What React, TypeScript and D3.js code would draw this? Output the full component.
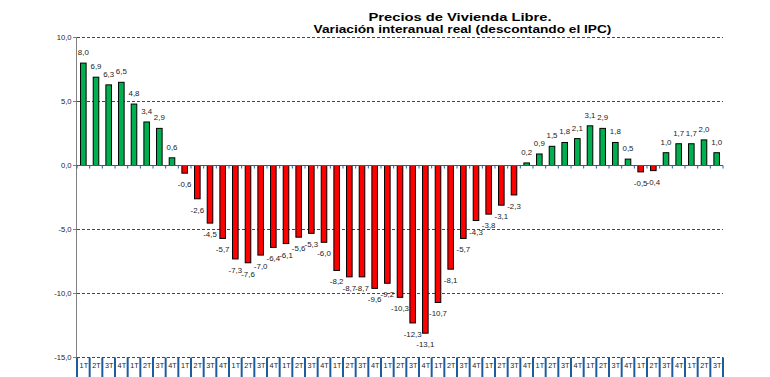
import React from "react";
import * as d3 from "d3";

const TITLE_LINES = ["Precios de Vivienda Libre.", "Variación interanual real (descontando el IPC)"];
const QUARTERS = ["1T", "2T", "3T", "4T"];
const VALUES = [
  8.0, 6.9, 6.3, 6.5, 4.8, 3.4, 2.9, 0.6,
  -0.6, -2.6, -4.5, -5.7, -7.3, -7.6, -7.0, -6.4,
  -6.1, -5.6, -5.3, -6.0, -8.2, -8.7, -8.7, -9.6,
  -9.2, -10.3, -12.3, -13.1, -10.7, -8.1, -5.7, -4.3,
  -3.8, -3.1, -2.3, 0.2, 0.9, 1.5, 1.8, 2.1,
  3.1, 2.9, 1.8, 0.5, -0.5, -0.4, 1.0, 1.7,
  1.7, 2.0, 1.0,
];
const CATEGORIES = VALUES.map((_, i) => QUARTERS[i % 4]);
const Y_TICKS = [10, 5, 0, -5, -10, -15];

const W = 770;
const H = 377;
const LEFT = 77;
const RIGHT = 723;
const TOP = 37.5;
const BOTTOM = 357.5;

const fmt = (v: number) => v.toFixed(1).replace(".", ",");

function T({ x, y, sx = 1.15, anchor = "middle", size, weight = "normal", fill = "#222", children }: any) {
  return (
    <text
      transform={`translate(${x},${y}) scale(${sx},1)`}
      textAnchor={anchor}
      fontSize={size}
      fontWeight={weight}
      fill={fill}
      fontFamily="'Liberation Sans', Arial, sans-serif"
    >
      {children}
    </text>
  );
}

export default function App() {
  const x = d3
    .scaleBand<number>()
    .domain(VALUES.map((_, i) => i))
    .range([LEFT, RIGHT])
    .paddingInner(0.56)
    .paddingOuter(0.28);
  const step = (RIGHT - LEFT) / VALUES.length;
  const y = d3.scaleLinear().domain([-15, 10]).range([BOTTOM, TOP]);
  const y0 = y(0);
  const boundaries = d3.range(VALUES.length + 1).map((i) => LEFT + i * step);

  return (
    <svg width={W} height={H} style={{ position: "absolute", left: 0, top: 0, background: "#fff" }}>
      <rect x={0} y={0} width={W} height={H} fill="#fff" />
      {/* Title */}
      <T x={460} y={20.7} size={11.6} weight="bold" sx={1.27} fill="#000">
        {TITLE_LINES[0]}
      </T>
      <T x={462.5} y={32.7} size={11.6} weight="bold" sx={1.18} fill="#000">
        {TITLE_LINES[1]}
      </T>

      {/* Gridlines */}
      {Y_TICKS.filter((t) => t !== 0).map((t) => (
        <line
          key={t}
          x1={LEFT}
          x2={RIGHT}
          y1={y(t)}
          y2={y(t)}
          stroke="#333"
          strokeWidth={0.9}
          strokeDasharray="3,2"
        />
      ))}

      {/* Y axis */}
      <line x1={LEFT - 0.5} x2={LEFT - 0.5} y1={TOP} y2={BOTTOM} stroke="#808080" strokeWidth={1} />
      {Y_TICKS.map((t) => (
        <g key={t}>
          <line x1={LEFT - 4} x2={LEFT} y1={y(t)} y2={y(t)} stroke="#808080" strokeWidth={1} />
          <T x={71.5} y={y(t) + 2.5} size={6.8} anchor="end" sx={1.12}>
            {fmt(t)}
          </T>
        </g>
      ))}

      {/* Bars */}
      {VALUES.map((v, i) => {
        const bx = x(i)!;
        const yTop = Math.min(y(v), y0);
        const h = Math.abs(y(v) - y0);
        return (
          <rect
            key={i}
            x={bx}
            y={yTop}
            width={x.bandwidth()}
            height={h}
            fill={v >= 0 ? "#00B050" : "#FF0000"}
            stroke="#000"
            strokeWidth={1}
          />
        );
      })}

      {/* Zero axis */}
      <line x1={LEFT} x2={RIGHT} y1={y0} y2={y0} stroke="#2460A0" strokeWidth={1.2} />
      {boundaries.map((bx, i) => (
        <line key={i} x1={bx} x2={bx} y1={y0} y2={y0 + 3} stroke="#2460A0" strokeWidth={1} />
      ))}

      {/* Data labels */}
      {VALUES.map((v, i) => {
        const cx = x(i)! + x.bandwidth() / 2;
        const ly = v >= 0 ? y(v) - 8 : y(v) + 14;
        return (
          <T key={i} x={cx} y={ly} size={7} sx={1.13}>
            {fmt(v)}
          </T>
        );
      })}

      {/* Bottom category labels */}
      {boundaries.map((bx, i) => (
        <line key={i} x1={bx} x2={bx} y1={BOTTOM} y2={H} stroke="#1F5C9C" strokeWidth={2} />
      ))}
      {CATEGORIES.map((c, i) => (
        <T key={i} x={LEFT + (i + 0.5) * step + 0.5} y={368} size={6.6} sx={1.1}>
          {c}
        </T>
      ))}
    </svg>
  );
}
